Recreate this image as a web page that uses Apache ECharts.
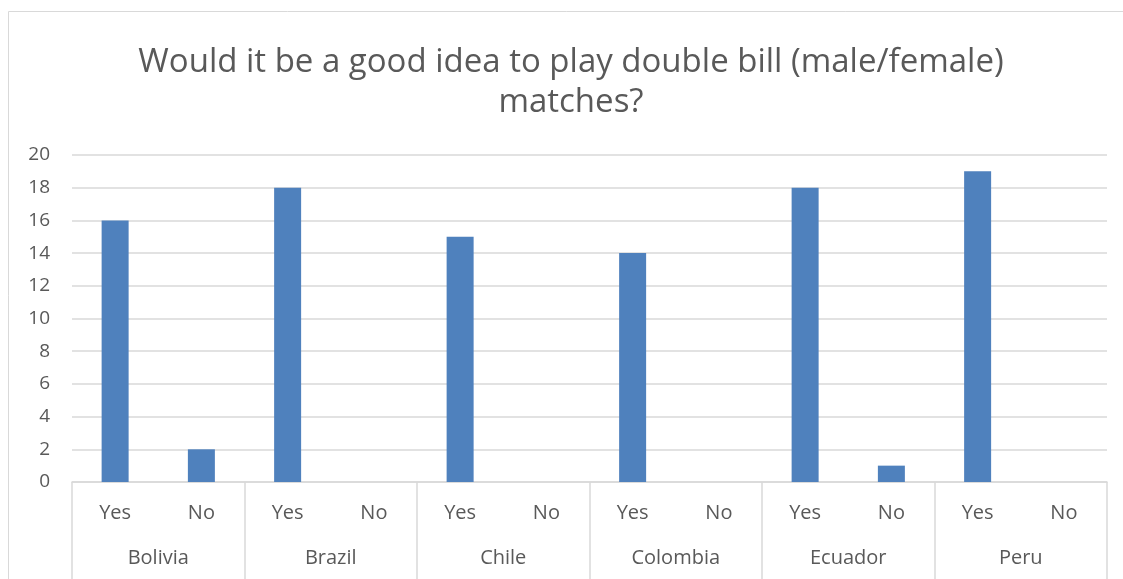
<!DOCTYPE html>
<html><head><meta charset="utf-8">
<script src="https://cdn.jsdelivr.net/npm/echarts@6/dist/echarts.min.js"></script>
<style>html,body{margin:0;padding:0;background:#fff}#c{width:1123px;height:579px}</style>
</head><body><div id="c"></div>
<script>
const countries = ['Bolivia','Brazil','Chile','Colombia','Ecuador','Peru'];
const answers = ['Yes','No'];
const yesValues = [16,18,15,14,18,19];
const noValues = [2,0,0,0,1,0];
const yTicks = [0,2,4,6,8,10,12,14,16,18,20];

const cats = [];
const vals = [];
countries.forEach((c,i)=>{
  cats.push(c+'|'+answers[0]); vals.push(yesValues[i]);
  cats.push(c+'|'+answers[1]); vals.push(noValues[i] === 0 ? null : noValues[i]);
});
const FONT = 'Open Sans';
const GRAY = '#595959';
const LINE = '#d9d9d9';

const chart = echarts.init(document.getElementById('c'));
chart.setOption({
  animation:false,
  textStyle:{fontFamily:FONT},
  title:{
    text:'Would it be a good idea to play double bill (male/female)\nmatches?',
    left:566, top:38, textAlign:'center',
    textStyle:{fontFamily:FONT,fontSize:33,fontWeight:'normal',color:GRAY,lineHeight:40}
  },
  graphic:[{type:'rect',shape:{x:8.5,y:11.5,width:1130,height:600},style:{fill:null,stroke:LINE,lineWidth:1},silent:true}],
  grid:{left:72,right:16,top:155,bottom:97,containLabel:false},
  xAxis:[{
    type:'category',data:cats,
    axisLine:{lineStyle:{color:LINE,width:1.5}},
    axisTick:{show:false},
    axisLabel:{interval:0,margin:21,fontSize:20,color:GRAY,formatter:v=>v.split('|')[1]},
    splitLine:{show:false}
  },{
    type:'category',data:countries,position:'bottom',
    axisLine:{show:false},
    axisTick:{show:true,length:97,interval:0,lineStyle:{color:LINE,width:1.5}},
    axisLabel:{interval:0,margin:66,fontSize:20,color:GRAY},
    splitLine:{show:false}
  }],
  yAxis:{
    type:'value',min:yTicks[0],max:yTicks[yTicks.length-1],interval:2,
    axisLine:{show:false},axisTick:{show:false},
    axisLabel:{fontSize:19,color:GRAY,margin:22},
    splitLine:{lineStyle:{color:LINE,width:1.5}}
  },
  series:[{type:'bar',data:vals,barWidth:27,itemStyle:{color:'#4f81bd'},xAxisIndex:0}]
});
</script></body></html>
